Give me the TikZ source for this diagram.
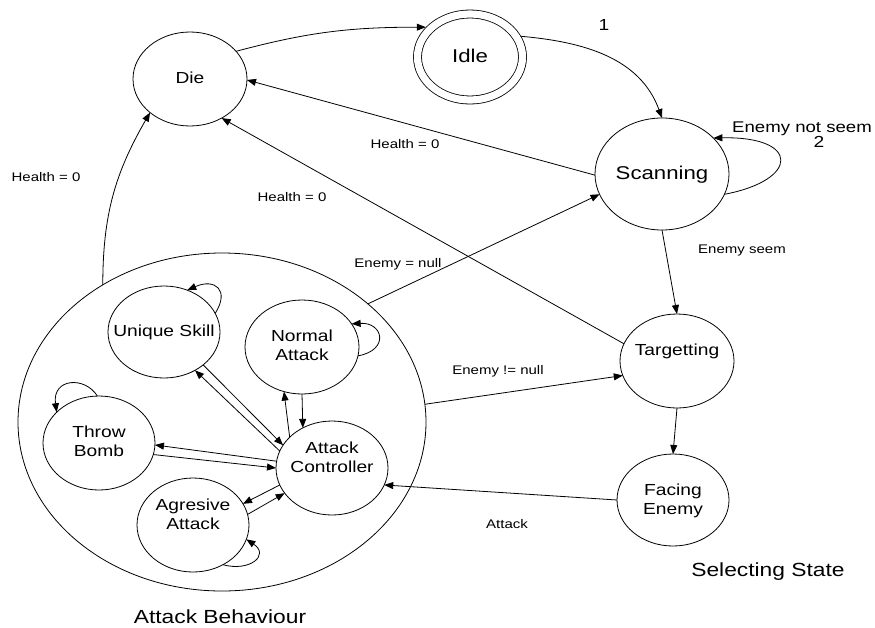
\documentclass[tikz,border=0pt]{standalone}
\usepackage{fontspec}
\setmainfont{Liberation Sans}[FakeStretch=1.2]
\usetikzlibrary{shapes.geometric,arrows.meta}
\newcommand{\ntxt}[2]{\raisebox{#1}[0pt][0pt]{\makebox[0pt]{\begin{tabular}{@{}c@{}}#2\end{tabular}}}}
\begin{document}
\begin{tikzpicture}[x=1pt,y=1pt,line width=0.8pt,
  st/.style={ellipse,draw,inner sep=0pt,outer sep=0pt,minimum width=112pt,minimum height=94pt,font=\fontsize{16}{19}\selectfont},
  big/.style={st,font=\fontsize{18.5}{22}\selectfont},
  arr/.style={-{Triangle[length=9pt,width=7pt]}},
  lbl/.style={inner sep=0pt,text height=9pt,text depth=0pt,font=\fontsize{12.5}{15}\selectfont},
  ttl/.style={inner sep=0pt,text height=13.7pt,text depth=0pt,font=\fontsize{19}{22}\selectfont}]
\useasboundingbox (0,0) rectangle (875,-627);
% states
\node[st,minimum width=114pt] (die) at (190,-79) {\ntxt{-5.5pt}{Die}};
\node[big,double,double distance=7.2pt,minimum width=105pt,minimum height=86pt,outer sep=4.4pt] (idle) at (470,-57) {\ntxt{-5.3pt}{Idle}};
\node[big,minimum width=134pt,minimum height=112pt] (scan) at (662,-174) {\ntxt{-5.3pt}{Scanning}};
\node[st,minimum width=114pt] (targ) at (677,-361) {\ntxt{4.5pt}{Targetting}};
\node[st,minimum height=92pt] (face) at (673,-500) {\ntxt{-5.5pt}{Facing\\Enemy}};
\node[draw,ellipse,inner sep=0pt,outer sep=0pt,minimum width=408pt,minimum height=338pt] (ab) at (222,-422) {};
\node[st,minimum height=92pt] (us) at (164,-332) {\ntxt{-5.5pt}{Unique Skill}};
\node[st,minimum width=114pt] (na) at (302,-347) {\ntxt{-4.5pt}{Normal\\Attack}};
\node[st] (tb) at (99,-443) {\ntxt{-4.5pt}{Throw\\Bomb}};
\node[st] (ac) at (332,-468) {\ntxt{4.5pt}{Attack\\Controller}};
\node[st] (ag) at (193,-525) {\ntxt{4.5pt}{Agresive\\Attack}};
% outer transitions
\draw[arr] (die.31) to[out=15,in=180] (idle.146);
\draw[arr] (idle.22) to[out=-5,in=110] (scan.90);
\draw[arr] (scan.-18) .. controls (800,-180) and (800,-136) .. (scan.35);
\draw[arr] (scan.181) -- (die.-1);
\draw[arr] (targ.162) -- (die.-51);
\draw[arr] (ab.131) to[out=90,in=240] (die.220);
\draw[arr] (ab.39) -- (scan.198);
\draw[arr] (ab.5) -- (targ.195);
\draw[arr] (scan.270) -- (targ.90);
\draw[arr] (targ.270) -- (face.90);
\draw[arr] (face.180) -- (ac.-18);
% inner transitions
\draw[arr] (ac.162) -- (us.-51);
\draw[arr] (us.-40) -- (ac.155);
\draw[arr] (ac.144) -- (na.248);
\draw[arr] (na.270) -- (ac.126);
\draw[arr] (ac.173) -- (tb.-2);
\draw[arr] (tb.-12) -- (ac.180);
\draw[arr] (ac.198) -- (ag.23);
\draw[arr] (ag.11) -- (ac.208);
% self loops
\draw[arr] (us.20) .. controls (230,-290) and (215,-278) .. (us.61);
\draw[arr] (na.-9) .. controls (390,-350) and (383,-322) .. (na.25);
\draw[arr] (tb.92) .. controls (85,-376) and (52,-378) .. (tb.144);
\draw[arr] (ag.-53) .. controls (250,-572) and (270,-555) .. (ag.-15);
% labels
\node[lbl] (h1) at (46,-177) {Health = 0};
\node[lbl] (h2) at (292,-197) {Health = 0};
\node[lbl] (h3) at (405,-144) {Health = 0};
\node[lbl] (en) at (398,-263) {Enemy = null};
\node[lbl] (ens) at (742,-249) {Enemy seem};
\node[lbl] (enn) at (498,-370) {Enemy != null};
\node[lbl] (atk) at (507,-524) {Attack};
\node[lbl,text height=11.2pt,font=\fontsize{15.5}{18}\selectfont] (ns) at (802,-127) {Enemy not seem};
\node[lbl,text height=11.5pt,font=\fontsize{16}{18}\selectfont] (one) at (604,-25) {1};
\node[lbl,text height=11.5pt,font=\fontsize{16}{18}\selectfont] (two) at (819,-142) {2};
\node[ttl] (sel) at (768,-570) {Selecting State};
\node[ttl] (atb) at (220,-617) {Attack Behaviour};
\end{tikzpicture}
\end{document}
